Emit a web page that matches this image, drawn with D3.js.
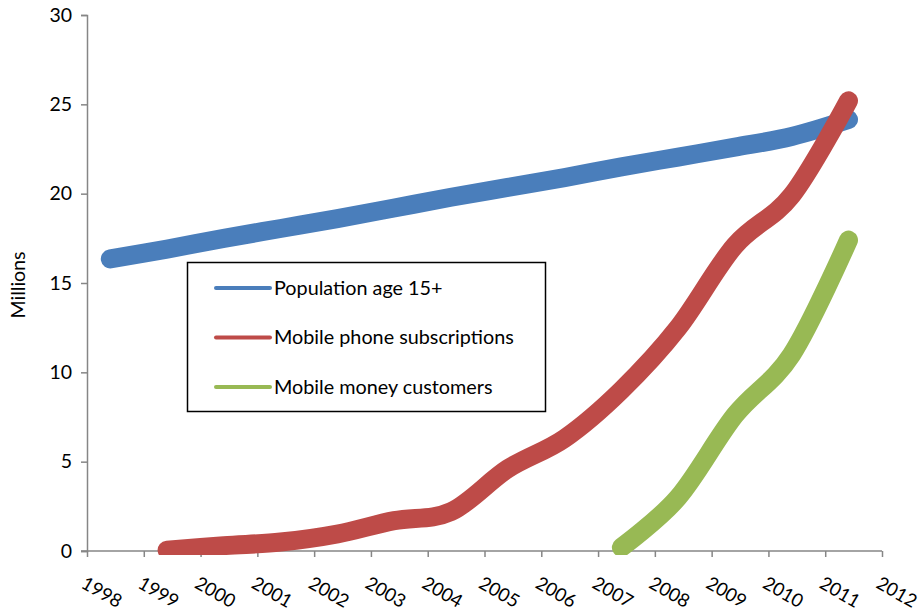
<!DOCTYPE html>
<html>
<head>
<meta charset="utf-8">
<script src="https://cdn.jsdelivr.net/npm/d3@7"></script>
<style>
  body { margin: 0; background: #fff; }
  text { font-family: Lato, "Open Sans", sans-serif; fill: #000; }
</style>
</head>
<body>
<div id="container"></div>
<script>
// Dados (milhões)
var years = [1998, 1999, 2000, 2001, 2002, 2003, 2004, 2005, 2006, 2007, 2008, 2009, 2010, 2011];
var population = [16.35, 16.9, 17.5, 18.05, 18.6, 19.2, 19.8, 20.35, 20.9, 21.5, 22.05, 22.6, 23.2, 24.15];
var mobileSubs = [null, 0.05, 0.3, 0.5, 0.95, 1.7, 2.2, 4.6, 6.3, 9.0, 12.5, 17.1, 19.9, 25.2];
var mobileMoney = [null, null, null, null, null, null, null, null, null, 0.2, 3.0, 7.6, 11.0, 17.4];
var tickYears = [1998, 1999, 2000, 2001, 2002, 2003, 2004, 2005, 2006, 2007, 2008, 2009, 2010, 2011, 2012];
var yTicks = [0, 5, 10, 15, 20, 25, 30];
var seriesNames = ["Population age 15+", "Mobile phone subscriptions", "Mobile money customers"];
var seriesColors = ["#4A7EBB", "#BE4B48", "#98B954"];

var width = 920, height = 616;
var plot = { left: 87, right: 882, top: 15, bottom: 551 };
var pointOffset = 0.41; // os pontos ficam um pouco depois do tick do ano

var svg = d3.select("#container")
  .append("svg")
  .attr("width", width)
  .attr("height", height);

// Escalas
var x = d3.scaleLinear()
  .domain([1998, 2012])
  .range([plot.left, plot.right]);

var y = d3.scaleLinear()
  .domain([0, 30])
  .range([plot.bottom, plot.top]);

// Eixo Y
var yAxis = svg.append("g")
  .attr("transform", "translate(" + plot.left + ",0)")
  .call(d3.axisLeft(y).tickValues(yTicks).tickSize(6).tickPadding(9));

yAxis.select(".domain").attr("stroke", "#868686").attr("stroke-width", 1.5);
yAxis.selectAll(".tick line").attr("stroke", "#868686").attr("stroke-width", 1.5);
yAxis.selectAll(".tick text")
  .attr("font-size", 19.5)
  .attr("font-family", "Lato, sans-serif")
  .attr("fill", "#000");

// Eixo X
var xAxis = svg.append("g")
  .attr("transform", "translate(0," + plot.bottom + ")")
  .call(d3.axisBottom(x).tickValues(tickYears).tickSize(6).tickFormat(""));

xAxis.select(".domain")
  .attr("d", "M" + (plot.left - 6) + ",0H" + plot.right)
  .attr("stroke", "#868686").attr("stroke-width", 1.5);
xAxis.selectAll(".tick line").attr("stroke", "#868686").attr("stroke-width", 1.5);

svg.append("g")
  .selectAll("text")
  .data(tickYears)
  .enter().append("text")
  .attr("transform", function(d) {
    return "translate(" + (x(d) - 7) + "," + 587 + ") rotate(30)";
  })
  .attr("font-size", 18.5)
  .text(function(d) { return d; });

// Título do eixo Y
svg.append("text")
  .text("Millions")
  .attr("transform", "translate(25,285) rotate(-90)")
  .attr("text-anchor", "middle")
  .attr("font-size", 19.5);

// Linhas
svg.append("clipPath")
  .attr("id", "plot-clip")
  .append("rect")
  .attr("x", 0).attr("y", 0)
  .attr("width", width).attr("height", plot.bottom + 4);

var line = d3.line()
  .defined(function(d) { return d.value != null; })
  .x(function(d) { return x(d.year + pointOffset); })
  .y(function(d) { return y(d.value); })
  .curve(d3.curveCardinal.tension(0));

var allSeries = [population, mobileSubs, mobileMoney];

svg.append("g")
  .attr("clip-path", "url(#plot-clip)")
  .selectAll("path")
  .data(allSeries)
  .enter().append("path")
  .attr("d", function(values) {
    return line(years.map(function(yr, i) { return { year: yr, value: values[i] }; }));
  })
  .attr("fill", "none")
  .attr("stroke", function(d, i) { return seriesColors[i]; })
  .attr("stroke-width", 19)
  .attr("stroke-linecap", "round")
  .attr("stroke-linejoin", "round");

// Legenda
var legend = svg.append("g");

legend.append("rect")
  .attr("x", 187.5).attr("y", 262.5)
  .attr("width", 358).attr("height", 149)
  .attr("fill", "#fff")
  .attr("stroke", "#000")
  .attr("stroke-width", 1.5);

var legendRows = [288, 337.5, 387];

legend.selectAll(".legend-line")
  .data(seriesNames)
  .enter().append("line")
  .attr("x1", 216).attr("x2", 270)
  .attr("y1", function(d, i) { return legendRows[i]; })
  .attr("y2", function(d, i) { return legendRows[i]; })
  .attr("stroke", function(d, i) { return seriesColors[i]; })
  .attr("stroke-width", 4)
  .attr("stroke-linecap", "round");

legend.selectAll(".legend-text")
  .data(seriesNames)
  .enter().append("text")
  .attr("x", 274)
  .attr("y", function(d, i) { return legendRows[i]; })
  .attr("dy", "0.35em")
  .attr("font-size", 19.8)
  .text(function(d) { return d; });
</script>
</body>
</html>
